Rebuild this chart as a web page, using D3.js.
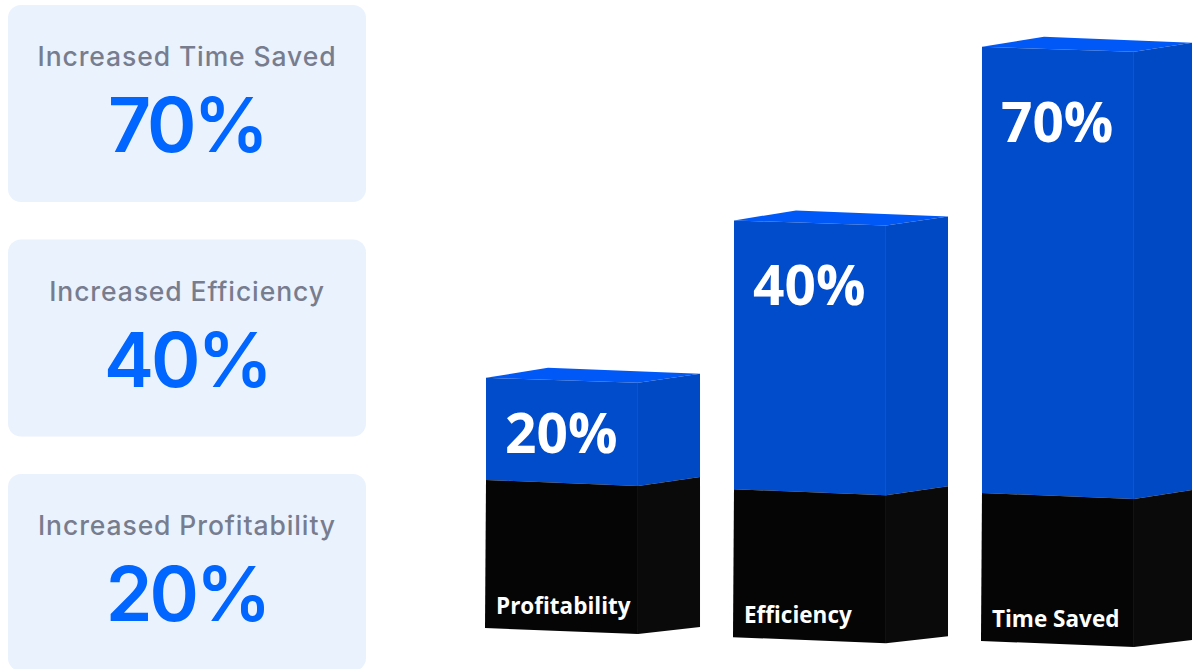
<!DOCTYPE html>
<html>
<head>
<meta charset="utf-8">
<script src="https://cdn.jsdelivr.net/npm/d3@7"></script>
<style>
  body { margin: 0; background: #fff; }
  svg { display: block; }
</style>
</head>
<body>
<div id="chart"></div>
<script>
// Data
const categories = ["Profitability", "Efficiency", "Time Saved"];
const values = [20, 40, 70];
const cardTitles = ["Increased Time Saved", "Increased Efficiency", "Increased Profitability"];
const cardValues = [70, 40, 20];

const width = 1194, height = 669;

const svg = d3.select("#chart")
  .append("svg")
  .attr("width", width)
  .attr("height", height)
  .attr("viewBox", `0 0 ${width} ${height}`);

// Left cards
const cardY = d3.scaleBand()
  .domain(d3.range(cardTitles.length))
  .range([5, 671])
  .paddingInner(0.16);

const cards = svg.append("g")
  .selectAll("g")
  .data(cardTitles.map((t, i) => ({ title: t, value: cardValues[i], i })))
  .enter()
  .append("g")
  .attr("transform", d => `translate(8,${cardY(d.i)})`);

cards.append("rect")
  .attr("width", 358)
  .attr("height", cardY.bandwidth())
  .attr("rx", 13)
  .attr("fill", "#EAF2FE");

cards.append("text")
  .attr("x", 179)
  .attr("y", 61)
  .attr("text-anchor", "middle")
  .attr("font-family", "Inter, sans-serif")
  .attr("font-weight", 500)
  .attr("font-size", "26.5px")
  .attr("letter-spacing", "0.9px")
  .attr("fill", "#787D8E")
  .text(d => d.title);

cards.append("text")
  .attr("x", 179)
  .attr("y", 147)
  .attr("text-anchor", "middle")
  .attr("font-family", "Inter, sans-serif")
  .attr("font-weight", 600)
  .attr("font-size", "75px")
  .attr("letter-spacing", "-3px")
  .attr("fill", "#0066FF")
  .text(d => d.value + "%");

// 3D bars
const x = d3.scaleBand()
  .domain(categories)
  .range([486, 1196])
  .paddingInner(0.137)
  .paddingOuter(0);

const y = d3.scaleSqrt()
  .domain([0, 100])
  .range([758, -92]);

const floor = d3.scaleSqrt()
  .domain([0, categories.length - 1])
  .range([628, 641]);

const bars = categories.map((c, i) => {
  const x0 = x(c);
  const w = Math.min(x.bandwidth(), width - 2 - x0);
  const fw = x.bandwidth() * 0.71;
  const t = y(values[i]);
  const f = floor(i);
  const b = f - 148;
  return { c, v: values[i], x0, w, fw, t, f, b };
});

const poly = pts => "M" + pts.map(p => p.join(",")).join("L") + "Z";

const g = svg.append("g");

bars.forEach(d => {
  const { x0, w, fw, t, f, b } = d;
  // top face
  g.append("path")
    .attr("d", poly([[x0, t], [x0 + 62, t - 10], [x0 + w, t - 4], [x0 + fw, t + 5]]))
    .attr("fill", "#0058F6");
  // front blue
  g.append("path")
    .attr("d", poly([[x0, t], [x0 + fw, t + 5], [x0 + fw, b + 6], [x0, b]]))
    .attr("fill", "#004CCB");
  // side blue
  g.append("path")
    .attr("d", poly([[x0 + fw, t + 5], [x0 + w, t - 4], [x0 + w, b - 3], [x0 + fw, b + 6]]))
    .attr("fill", "#0049C4");
  // front black
  g.append("path")
    .attr("d", poly([[x0, b], [x0 + fw, b + 6], [x0 + fw, f + 6], [x0 - 1, f]]))
    .attr("fill", "#050505");
  // side black
  g.append("path")
    .attr("d", poly([[x0 + fw, b + 6], [x0 + w, b - 3], [x0 + w, f - 1], [x0 + fw, f + 6]]))
    .attr("fill", "#0A0A0A");

  g.append("text")
    .attr("x", x0 + 19)
    .attr("y", t + 60 + 0.06 * (f - t))
    .attr("font-family", "'Open Sans', sans-serif")
    .attr("font-weight", 700)
    .attr("font-size", "55px")
    .attr("fill", "#fff")
    .text(d.v + "%");

  g.append("text")
    .attr("x", x0 + 10)
    .attr("y", f - 14)
    .attr("font-family", "'Open Sans', sans-serif")
    .attr("font-weight", 700)
    .attr("font-size", "22.5px")
    .attr("fill", "#fff")
    .text(d.c);
});
</script>
</body>
</html>
